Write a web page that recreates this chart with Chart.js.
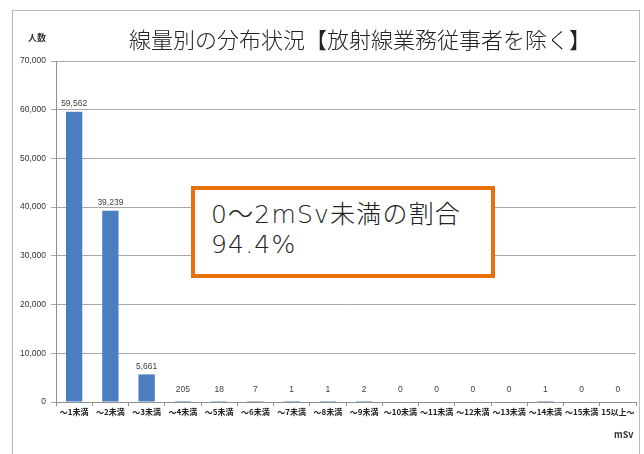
<!DOCTYPE html>
<html>
<head>
<meta charset="utf-8">
<script src="https://cdn.jsdelivr.net/npm/chart.js@4"></script>
<style>
    html, body { margin: 0; padding: 0; background: #fff; }
    #wrap { position: relative; width: 644px; height: 454px; overflow: hidden; font-family: "Noto Sans CJK JP", sans-serif; }
    #frame { position: absolute; left: 12px; top: 10px; width: 628px; height: 460px; border: 1px solid #b8b8b8; box-sizing: border-box; }
    #title { position: absolute; left: 70px; width: 580px; top: 22px; text-align: center; font-size: 22px; color: #222; font-weight: 300; }
    #yunit { position: absolute; left: 28px; top: 31px; font-size: 9px; font-weight: bold; color: #333; }
    #xunit { position: absolute; left: 614px; top: 428px; font-size: 9px; font-weight: bold; color: #333; }
    #note { position: absolute; left: 191px; top: 186px; width: 304px; height: 92px; border: 4px solid #e8710a; box-sizing: border-box; background: #fff; }
    #note div { position: absolute; left: 16px; font-family: "DejaVu Sans", "Noto Sans CJK JP", sans-serif; font-weight: 200; font-size: 25px; letter-spacing: 1.2px; color: #222; line-height: 1; white-space: nowrap; }
    canvas { position: absolute; left: 0; top: 0; }
</style>
</head>
<body>
<div id="wrap">
    <div id="frame"></div>
    <canvas id="chart" width="644" height="454"></canvas>
    <div id="title">線量別の分布状況【放射線業務従事者を除く】</div>
    <div id="yunit">人数</div>
    <div id="xunit">mSv</div>
    <div id="note"><div style="top:12px">0～2mSv未満の割合</div><div style="top:42px">94.4%</div></div>
</div>
<script>
    const categories = ["～1未満", "～2未満", "～3未満", "～4未満", "～5未満", "～6未満", "～7未満", "～8未満",
        "～9未満", "～10未満", "～11未満", "～12未満", "～13未満", "～14未満", "～15未満", "15以上～"];
    const people = [59562, 39239, 5661, 205, 18, 7, 1, 1, 2, 0, 0, 0, 0, 1, 0, 0];
    const yTicks = [0, 10000, 20000, 30000, 40000, 50000, 60000, 70000];

    const valueLabels = {
        id: "valueLabels",
        afterDatasetsDraw(chart) {
            const ctx = chart.ctx;
            const meta = chart.getDatasetMeta(0);
            ctx.save();
            ctx.font = "8.5px 'Liberation Sans', sans-serif";
            ctx.fillStyle = "#404040";
            ctx.textAlign = "center";
            ctx.textBaseline = "bottom";
            meta.data.forEach((bar, i) => {
                const y = Math.min(bar.y, chart.chartArea.bottom - 4);
                ctx.fillText(people[i].toLocaleString("en-US"), bar.x, y - 4);
            });
            ctx.restore();
        }
    };

    new Chart(document.getElementById("chart"), {
        type: "bar",
        data: {
            labels: categories,
            datasets: [{ data: people, backgroundColor: "#4a7ec0", barPercentage: 0.45, categoryPercentage: 1 }]
        },
        options: {
            responsive: false,
            animation: false,
            events: [],
            layout: { padding: { left: 0, top: 61, right: 8, bottom: 0 } },
            plugins: { legend: { display: false }, tooltip: { enabled: false } },
            scales: {
                x: {
                    grid: { drawOnChartArea: false, drawTicks: true, tickLength: 4, color: "#909090", offset: true },
                    border: { color: "#909090" },
                    ticks: { color: "#222", font: { family: "'Noto Sans CJK JP'", size: 8, weight: "bold" }, maxRotation: 0, autoSkip: false, padding: 1 },
                    afterFit: s => { s.height = 52; }
                },
                y: {
                    min: 0, max: 70000,
                    afterBuildTicks: s => { s.ticks = yTicks.map(v => ({ value: v })); },
                    grid: { color: "#a8a8a8", tickLength: 5 },
                    border: { color: "#909090" },
                    ticks: { color: "#333", font: { family: "'Liberation Sans'", size: 8.5 }, padding: 5,
                        callback: v => v.toLocaleString("en-US") },
                    afterFit: s => { s.width = 56; }
                }
            }
        },
        plugins: [valueLabels]
    });
</script>
</body>
</html>
